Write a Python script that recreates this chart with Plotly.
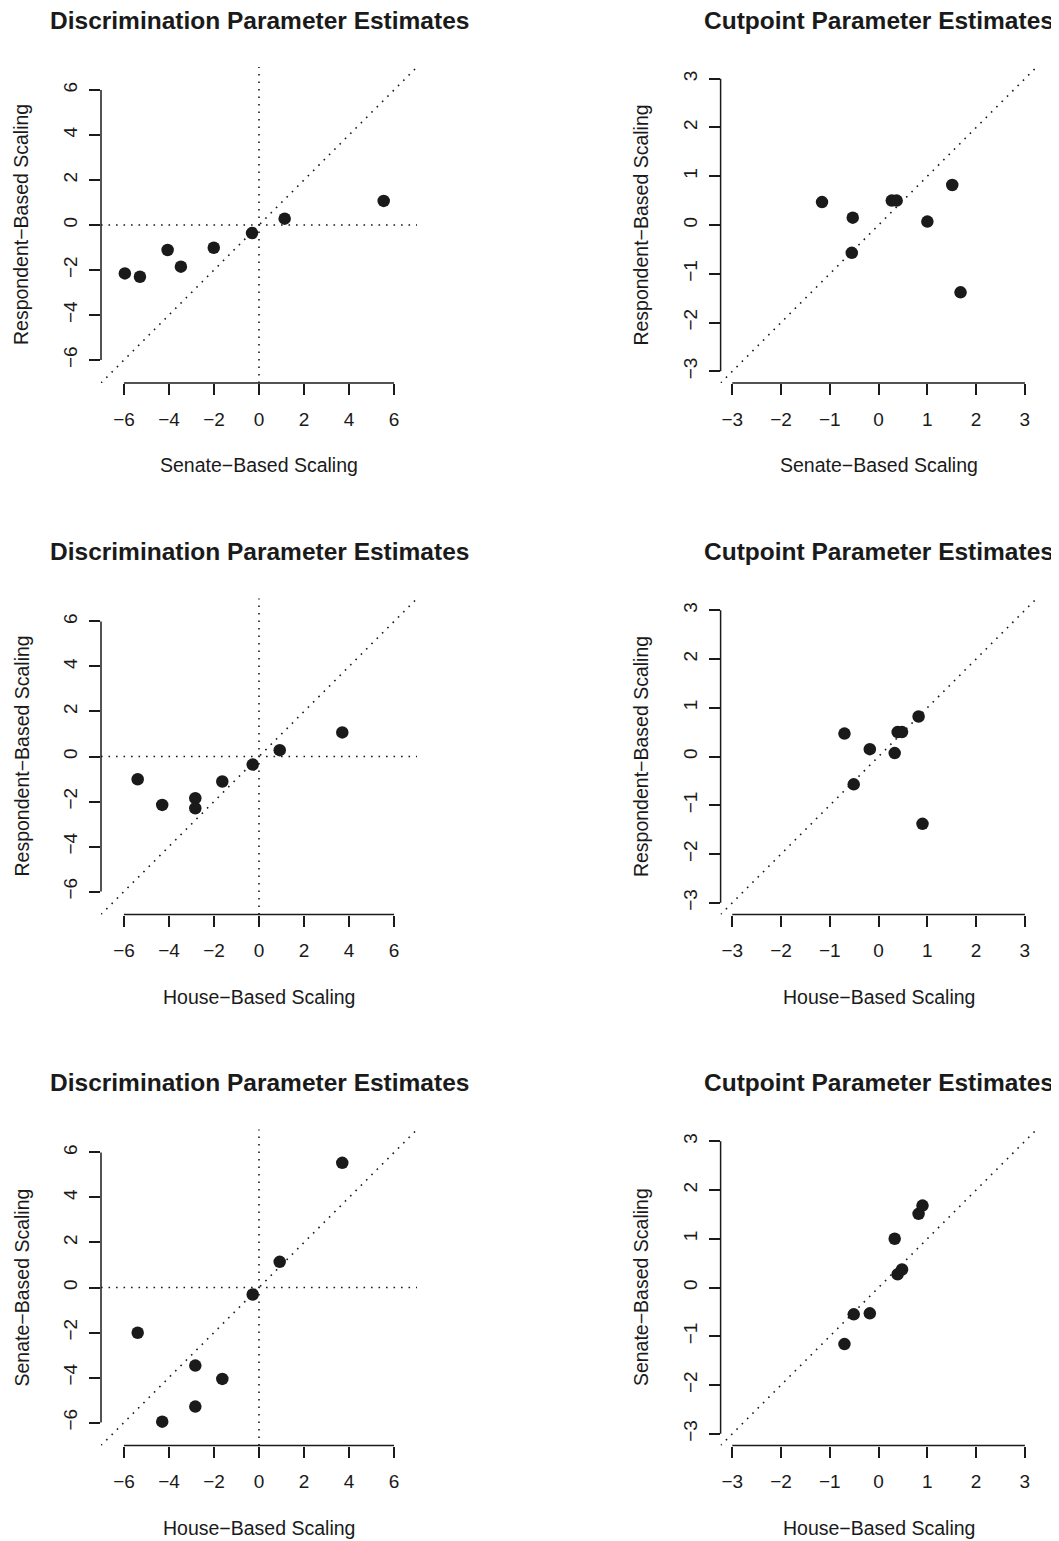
import plotly.graph_objects as go

# ---- data ----
# Discrimination parameter estimates (8 items)
senate_disc = [-5.96, -5.29, -4.06, -3.47, -2.01, -0.31, 1.14, 5.54]
house_disc = [-4.30, -2.83, -1.63, -2.83, -5.39, -0.28, 0.92, 3.70]
resp_disc = [-2.15, -2.30, -1.11, -1.85, -1.01, -0.36, 0.28, 1.07]

# Cutpoint parameter estimates (8 items)
senate_cut = [-1.16, -0.53, -0.55, 1.00, 0.27, 0.37, 1.51, 1.68]
house_cut = [-0.70, -0.18, -0.51, 0.33, 0.39, 0.48, 0.82, 0.90]
resp_cut = [0.47, 0.15, -0.57, 0.07, 0.50, 0.50, 0.82, -1.38]

disc_ticks = [-6, -4, -2, 0, 2, 4, 6]
cut_ticks = [-3, -2, -1, 0, 1, 2, 3]
disc_lim = [-6.5, 6.5]
cut_lim = [-3, 3]

title_disc = "Discrimination Parameter Estimates"
title_cut = "Cutpoint Parameter Estimates"
lab_senate = "Senate\u2212Based Scaling"
lab_house = "House\u2212Based Scaling"
lab_resp = "Respondent\u2212Based Scaling"

panels = [
    dict(x=senate_disc, y=resp_disc, xl=lab_senate, yl=lab_resp, title=title_disc, ticks=disc_ticks, lim=disc_lim, zero=True),
    dict(x=senate_cut, y=resp_cut, xl=lab_senate, yl=lab_resp, title=title_cut, ticks=cut_ticks, lim=cut_lim, zero=False),
    dict(x=house_disc, y=resp_disc, xl=lab_house, yl=lab_resp, title=title_disc, ticks=disc_ticks, lim=disc_lim, zero=True),
    dict(x=house_cut, y=resp_cut, xl=lab_house, yl=lab_resp, title=title_cut, ticks=cut_ticks, lim=cut_lim, zero=False),
    dict(x=house_disc, y=senate_disc, xl=lab_house, yl=lab_senate, title=title_disc, ticks=disc_ticks, lim=disc_lim, zero=True),
    dict(x=house_cut, y=senate_cut, xl=lab_house, yl=lab_senate, title=title_cut, ticks=cut_ticks, lim=cut_lim, zero=False),
]

# ---- styling / layout ----
PAGE_W, PAGE_H = 1059, 1541
OFF = 8  # default body margin of the html page
W, H = PAGE_W - OFF, PAGE_H - OFF
INK = "#1a1a1a"
FONT = "Liberation Sans, Arial, Helvetica, sans-serif"
col_left = [101, 720.6]          # page pixels
row_top = [67, 598.5, 1129.5]    # page pixels
SIZE = 316
DOT = "1.6px,5.9px"


def px(x):
    return (x - OFF) / W


def py(y):
    return 1 - (y - OFF) / H


fig = go.Figure()
shapes = []
annotations = []
layout = {}

for i, p in enumerate(panels):
    r, c = divmod(i, 2)
    n = i + 1
    sfx = "" if n == 1 else str(n)
    xa, ya = "x" + sfx, "y" + sfx
    lo, hi = p["lim"]
    pad = 0.04 * (hi - lo)
    rng = [lo - pad, hi + pad]

    fig.add_trace(go.Scatter(
        x=p["x"], y=p["y"], mode="markers", xaxis=xa, yaxis=ya,
        marker=dict(size=12.5, color=INK, line=dict(width=0)),
        showlegend=False, cliponaxis=False, hoverinfo="x+y"))

    x0 = col_left[c]
    t0 = row_top[r]
    xdom = [px(x0), px(x0 + SIZE)]
    ydom = [py(t0 + SIZE), py(t0)]

    common = dict(range=rng, tickvals=p["ticks"], ticks="outside", ticklen=11,
                  tickwidth=1.5, tickcolor=INK, showline=False, showgrid=False,
                  zeroline=False, tickfont=dict(family=FONT, size=19, color=INK),
                  fixedrange=True)
    layout["xaxis" + sfx] = dict(domain=xdom, anchor=ya, ticklabelstandoff=8, **common)
    layout["yaxis" + sfx] = dict(domain=ydom, anchor=xa, tickangle=-90, ticklabelstandoff=4, **common)

    # R-style axis lines spanning first to last tick
    shapes.append(dict(type="line", xref=xa, yref=ya + " domain",
                       x0=p["ticks"][0], x1=p["ticks"][-1], y0=0, y1=0,
                       line=dict(color=INK, width=1.5)))
    shapes.append(dict(type="line", xref=xa + " domain", yref=ya,
                       x0=0, x1=0, y0=p["ticks"][0], y1=p["ticks"][-1],
                       line=dict(color=INK, width=1.5)))
    # 45-degree reference line
    shapes.append(dict(type="line", xref=xa, yref=ya, x0=rng[0], y0=rng[0], x1=rng[1], y1=rng[1],
                       line=dict(color=INK, width=1.6, dash=DOT), layer="below"))
    if p["zero"]:
        shapes.append(dict(type="line", xref=xa, yref=ya + " domain", x0=0, x1=0, y0=0, y1=1,
                           line=dict(color=INK, width=1.6, dash=DOT), layer="below"))
        shapes.append(dict(type="line", xref=xa + " domain", yref=ya, x0=0, x1=1, y0=0, y1=0,
                           line=dict(color=INK, width=1.6, dash=DOT), layer="below"))

    cx = px(x0 + SIZE / 2)
    # title
    annotations.append(dict(text=p["title"], xref="paper", yref="paper", x=cx, y=py(t0 - 47),
                            xanchor="center", yanchor="middle", showarrow=False,
                            font=dict(family=FONT, size=24.5, color=INK, weight="bold")))
    # x axis title
    annotations.append(dict(text=p["xl"], xref="paper", yref="paper", x=cx, y=py(t0 + SIZE + 82),
                            xanchor="center", yanchor="middle", showarrow=False,
                            font=dict(family=FONT, size=19.5, color=INK)))
    # y axis title
    annotations.append(dict(text=p["yl"], xref="paper", yref="paper", x=px(x0 - 80),
                            y=py(t0 + SIZE / 2), xanchor="center", yanchor="middle",
                            textangle=-90, showarrow=False,
                            font=dict(family=FONT, size=19.5, color=INK)))

fig.update_layout(
    width=W, height=H, margin=dict(l=0, r=0, t=0, b=0),
    paper_bgcolor="white", plot_bgcolor="white",
    shapes=shapes, annotations=annotations, showlegend=False,
    **layout)

fig.write_html("out.html")
